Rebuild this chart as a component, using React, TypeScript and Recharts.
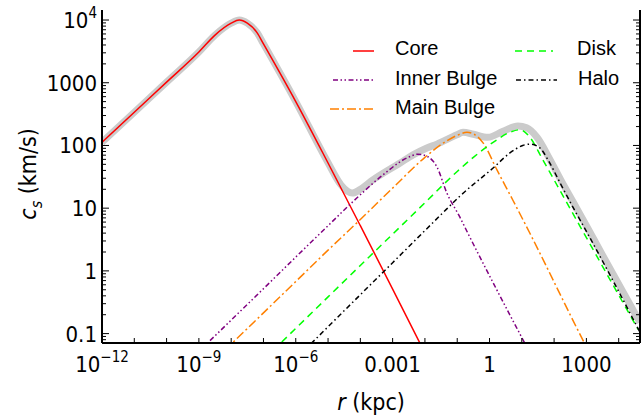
import React from "react";
import { LineChart, Line, XAxis, YAxis } from "recharts";

// values: r in kpc, cs in km/s
const totalData = [
  { r: 1e-12, cs: 112 }, { r: 1e-11, cs: 339 }, { r: 1e-10, cs: 1023 }, { r: 1e-9, cs: 3090 },
  { r: 3.16e-9, cs: 5750 }, { r: 1e-8, cs: 8910 }, { r: 1.78e-8, cs: 10000 }, { r: 3.16e-8, cs: 8910 },
  { r: 6.31e-8, cs: 6310 }, { r: 1e-7, cs: 4170 }, { r: 1e-6, cs: 501 }, { r: 1e-5, cs: 53 },
  { r: 2.51e-5, cs: 23.5 }, { r: 3.98e-5, cs: 18.6 }, { r: 5.62e-5, cs: 17.4 }, { r: 1e-4, cs: 20 },
  { r: 2.45e-4, cs: 28.2 }, { r: 1.7e-3, cs: 52.5 }, { r: 4.27e-3, cs: 70.8 }, { r: 1.15e-2, cs: 91.2 },
  { r: 2.34e-2, cs: 105 }, { r: 9.77e-2, cs: 148 }, { r: 0.151, cs: 162 }, { r: 0.316, cs: 151 },
  { r: 0.891, cs: 135 }, { r: 2.51, cs: 166 }, { r: 7.59, cs: 204 }, { r: 14.1, cs: 191 },
  { r: 29.5, cs: 135 }, { r: 74.1, cs: 60 }, { r: 158, cs: 28.8 }, { r: 398, cs: 12.3 },
  { r: 1000, cs: 5.25 }, { r: 3162, cs: 1.78 }, { r: 45700, cs: 0.151 },
];

const coreData = [
  { r: 1e-12, cs: 112 }, { r: 1e-11, cs: 339 }, { r: 1e-10, cs: 1023 }, { r: 1e-9, cs: 3090 },
  { r: 3.16e-9, cs: 5750 }, { r: 1e-8, cs: 8910 }, { r: 1.78e-8, cs: 10000 }, { r: 3.16e-8, cs: 8910 },
  { r: 6.31e-8, cs: 6310 }, { r: 1e-7, cs: 4170 }, { r: 1e-6, cs: 501 }, { r: 1e-5, cs: 52.5 },
  { r: 1e-4, cs: 5.25 }, { r: 1e-3, cs: 0.513 }, { r: 1e-2, cs: 0.049 },
];

const innerBulgeData = [
  { r: 1e-9, cs: 0.052 }, { r: 1e-8, cs: 0.164 }, { r: 1e-7, cs: 0.52 }, { r: 1e-6, cs: 1.66 },
  { r: 7.94e-6, cs: 4.68 }, { r: 7.76e-5, cs: 14.5 }, { r: 5.01e-4, cs: 33.9 }, { r: 2.75e-3, cs: 63.1 },
  { r: 6.03e-3, cs: 72.4 }, { r: 1.23e-2, cs: 66.1 }, { r: 2.34e-2, cs: 45.7 }, { r: 4.79e-2, cs: 17.4 },
  { r: 0.12, cs: 7.24 }, { r: 0.214, cs: 3.98 }, { r: 12.6, cs: 0.069 }, { r: 20, cs: 0.044 },
];

const mainBulgeData = [
  { r: 6.31e-9, cs: 0.054 }, { r: 1e-7, cs: 0.214 }, { r: 1e-6, cs: 0.676 }, { r: 1e-5, cs: 2.14 },
  { r: 1e-4, cs: 6.6 }, { r: 1e-3, cs: 20.9 }, { r: 1e-2, cs: 64.6 }, { r: 3.98e-2, cs: 112 },
  { r: 0.1, cs: 145 }, { r: 0.2, cs: 162 }, { r: 0.355, cs: 148 }, { r: 0.631, cs: 110 },
  { r: 1.7, cs: 40.7 }, { r: 5.25, cs: 13.5 }, { r: 17.8, cs: 3.98 }, { r: 891, cs: 0.069 },
  { r: 1585, cs: 0.039 },
];

const diskData = [
  { r: 2.0e-7, cs: 0.054 }, { r: 1e-5, cs: 0.385 }, { r: 1e-4, cs: 1.22 }, { r: 1e-3, cs: 3.85 },
  { r: 1e-2, cs: 12.2 }, { r: 0.1, cs: 38.5 }, { r: 0.316, cs: 64.6 }, { r: 1.29, cs: 112 },
  { r: 4.27, cs: 162 }, { r: 8.71, cs: 178 }, { r: 17.8, cs: 135 }, { r: 41.7, cs: 63.1 },
  { r: 100, cs: 28.2 }, { r: 316, cs: 9.77 }, { r: 1000, cs: 3.39 }, { r: 39800, cs: 0.117 },
];

const haloData = [
  { r: 1.58e-6, cs: 0.05 }, { r: 1e-4, cs: 0.417 }, { r: 1e-3, cs: 1.35 }, { r: 6.03e-3, cs: 3.39 },
  { r: 3.16e-2, cs: 7.9 }, { r: 0.12, cs: 15.5 }, { r: 1.29, cs: 43.7 }, { r: 4.27, cs: 75.9 },
  { r: 10.7, cs: 100 }, { r: 17.8, cs: 105 }, { r: 36.3, cs: 91.2 }, { r: 64.6, cs: 58.9 },
  { r: 158, cs: 24.5 }, { r: 398, cs: 10 }, { r: 1000, cs: 4.27 }, { r: 45700, cs: 0.105 },
];

const xTickValues = [
  1e-12, 1e-11, 1e-10, 1e-9, 1e-8, 1e-7, 1e-6, 1e-5, 1e-4, 1e-3, 1e-2, 1e-1, 1, 10, 100, 1000, 1e4,
];
const xTickLabels = [
  { value: 1e-12, base: "10", sup: "−12" },
  { value: 1e-9, base: "10", sup: "−9" },
  { value: 1e-6, base: "10", sup: "−6" },
  { value: 1e-3, base: "0.001", sup: "" },
  { value: 1, base: "1", sup: "" },
  { value: 1000, base: "1000", sup: "" },
];
const yTickLabels = [
  { value: 0.1, base: "0.1", sup: "" },
  { value: 1, base: "1", sup: "" },
  { value: 10, base: "10", sup: "" },
  { value: 100, base: "100", sup: "" },
  { value: 1000, base: "1000", sup: "" },
  { value: 1e4, base: "10", sup: "4" },
];

const xDomain = [1e-12, 4.57e4];
const yDomain = [0.0708, 14450];

// minor log ticks on the y axis
const yTickValues: number[] = [];
[0.01, 0.1, 1, 10, 100, 1000, 10000].forEach((d) => {
  for (let m = 1; m <= 9; m++) {
    const v = m * d;
    if (v >= yDomain[0] && v <= yDomain[1]) yTickValues.push(v);
  }
});

const FONT = "'DejaVu Sans Condensed', 'DejaVu Sans', sans-serif";
const LEGEND_FONT = "'Liberation Sans', Arial, sans-serif";

const findLabel = (list: any[], v: number) =>
  list.find((l) => Math.abs(l.value - v) / l.value < 1e-6);
const isDecade = (v: number) => Math.abs(Math.log10(v) - Math.round(Math.log10(v))) < 1e-6;

const Label = ({ lab }: any) => (
  <>
    <tspan>{lab.base}</tspan>
    {lab.sup && (
      <tspan dy={-10} fontSize={15}>
        {lab.sup}
      </tspan>
    )}
  </>
);

const BottomTick = (props: any) => {
  const { x, y, payload } = props;
  const lab = findLabel(xTickLabels, payload.value);
  return (
    <g>
      <line x1={x} x2={x} y1={y} y2={y - 5} stroke="#000" />
      {lab && (
        <text x={x} y={y + 29} textAnchor="middle" fontFamily={FONT} fontSize={22} fill="#000">
          <Label lab={lab} />
        </text>
      )}
    </g>
  );
};

const TopTick = (props: any) => {
  const { x, y } = props;
  return <line x1={x} x2={x} y1={y} y2={y + 5} stroke="#000" />;
};

const LeftTick = (props: any) => {
  const { x, y, payload } = props;
  const lab = findLabel(yTickLabels, payload.value);
  const len = isDecade(payload.value) ? 7 : 4;
  return (
    <g>
      <line x1={x} x2={x + len} y1={y} y2={y} stroke="#000" />
      {lab && (
        <text x={x - 5} y={y + 8} textAnchor="end" fontFamily={FONT} fontSize={22} fill="#000">
          <Label lab={lab} />
        </text>
      )}
    </g>
  );
};

const RightTick = (props: any) => {
  const { x, y, payload } = props;
  const len = isDecade(payload.value) ? 7 : 4;
  return <line x1={x} x2={x - len} y1={y} y2={y} stroke="#000" />;
};

const legendItems = [
  { name: "Core", color: "#ff0000", dash: "", x1: 353, x2: 374, y: 51, tx: 395, ty: 55 },
  { name: "Inner Bulge", color: "#800080", dash: "5 2.5 1.5 2.5 1.5 2.5", x1: 333, x2: 373, y: 80, tx: 395, ty: 85 },
  { name: "Main Bulge", color: "#ff8000", dash: "9 3 2 3", x1: 330, x2: 375, y: 109, tx: 395, ty: 114 },
  { name: "Disk", color: "#00ff00", dash: "7 5", x1: 515, x2: 553, y: 51, tx: 577, ty: 55 },
  { name: "Halo", color: "#000000", dash: "5 3 1.5 3", x1: 516, x2: 557, y: 80, tx: 578, ty: 85 },
];

const axisLine = { stroke: "#000", strokeWidth: 2 };

export default function App() {
  return (
    <div style={{ position: "absolute", left: 0, top: 0, width: 641, height: 416, background: "#fff" }}>
      <LineChart width={641} height={416} margin={{ top: 10, right: 0, bottom: 0, left: 0 }}>
        <XAxis
          dataKey="r"
          type="number"
          scale="log"
          domain={xDomain}
          allowDataOverflow
          ticks={xTickValues}
          interval={0}
          tick={<BottomTick />}
          tickLine={false}
          tickSize={0}
          tickMargin={0}
          axisLine={axisLine}
          height={73}
        />
        <XAxis
          xAxisId="top"
          orientation="top"
          dataKey="r"
          type="number"
          scale="log"
          domain={xDomain}
          allowDataOverflow
          ticks={xTickValues}
          interval={0}
          tick={<TopTick />}
          tickLine={false}
          tickSize={0}
          tickMargin={0}
          axisLine={axisLine}
          height={0}
        />
        <YAxis
          type="number"
          scale="log"
          domain={yDomain}
          allowDataOverflow
          ticks={yTickValues}
          interval={0}
          tick={<LeftTick />}
          tickLine={false}
          tickSize={0}
          tickMargin={0}
          axisLine={axisLine}
          width={102}
        />
        <YAxis
          yAxisId="right"
          orientation="right"
          type="number"
          scale="log"
          domain={yDomain}
          allowDataOverflow
          ticks={yTickValues}
          interval={0}
          tick={<RightTick />}
          tickLine={false}
          tickSize={0}
          tickMargin={0}
          axisLine={axisLine}
          width={1}
        />
        <Line data={totalData} dataKey="cs" type="monotone" stroke="#cbcbcb" strokeWidth={7} dot={false} isAnimationActive={false} />
        <Line data={coreData} dataKey="cs" type="monotone" stroke="#ff0000" strokeWidth={1.5} dot={false} isAnimationActive={false} />
        <Line data={innerBulgeData} dataKey="cs" type="monotone" stroke="#800080" strokeWidth={1.5} strokeDasharray="5 2.5 1.5 2.5 1.5 2.5" dot={false} isAnimationActive={false} />
        <Line data={mainBulgeData} dataKey="cs" type="monotone" stroke="#ff8000" strokeWidth={1.5} strokeDasharray="9 3 2 3" dot={false} isAnimationActive={false} />
        <Line data={diskData} dataKey="cs" type="monotone" stroke="#00ff00" strokeWidth={1.5} strokeDasharray="7 5" dot={false} isAnimationActive={false} />
        <Line data={haloData} dataKey="cs" type="monotone" stroke="#000000" strokeWidth={1.5} strokeDasharray="5 3 1.5 3" dot={false} isAnimationActive={false} />
      </LineChart>
      <svg width={641} height={416} style={{ position: "absolute", left: 0, top: 0, pointerEvents: "none" }}>
        {legendItems.map((it) => (
          <g key={it.name}>
            <line x1={it.x1} x2={it.x2} y1={it.y} y2={it.y} stroke={it.color} strokeWidth={1.5} strokeDasharray={it.dash || undefined} />
            <text x={it.tx} y={it.ty} fontFamily={LEGEND_FONT} fontSize={20} fill="#000">
              {it.name}
            </text>
          </g>
        ))}
        <text x={371} y={410} textAnchor="middle" fontFamily={FONT} fontSize={23} fill="#000">
          <tspan fontStyle="italic">r</tspan>
          <tspan> (kpc)</tspan>
        </text>
        <text transform="translate(36,174) rotate(-90)" textAnchor="middle" fontFamily={FONT} fontSize={23} fill="#000">
          <tspan fontStyle="italic">c</tspan>
          <tspan dy={6} fontSize={16} fontStyle="italic">s</tspan>
          <tspan dy={-6}> (km/s)</tspan>
        </text>
      </svg>
    </div>
  );
}
